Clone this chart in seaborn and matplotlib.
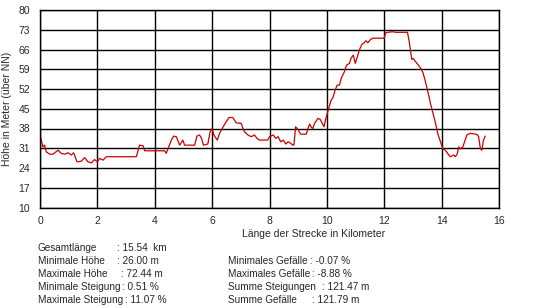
import matplotlib
matplotlib.use("Agg")
import matplotlib.pyplot as plt
import seaborn as sns
import pandas as pd

# ---- data ----
distance_km = [0.00, 0.10, 0.16, 0.22, 0.34, 0.45, 0.63, 0.74, 0.86, 0.98, 1.09, 1.17, 1.29, 1.44,
               1.56, 1.67, 1.79, 1.90, 2.00, 2.08, 2.20, 2.31, 2.43, 3.36, 3.47, 3.59, 3.65, 4.34,
               4.40, 4.58, 4.66, 4.75, 4.87, 4.98, 5.04, 5.39, 5.47, 5.56, 5.62, 5.70, 5.85, 5.93,
               6.00, 6.06, 6.18, 6.26, 6.35, 6.49, 6.59, 6.72, 6.84, 7.02, 7.07, 7.13, 7.25, 7.36,
               7.48, 7.56, 7.65, 7.94, 8.00, 8.13, 8.22, 8.30, 8.39, 8.48, 8.57, 8.65, 8.70, 8.82,
               8.85, 8.91, 9.00, 9.08, 9.28, 9.34, 9.40, 9.46, 9.51, 9.57, 9.69, 9.77, 9.84, 9.90,
               9.95, 10.03, 10.15, 10.21, 10.29, 10.36, 10.44, 10.50, 10.61, 10.69, 10.79, 10.84,
               10.92, 10.99, 11.07, 11.13, 11.22, 11.30, 11.36, 11.43, 11.51, 11.59, 11.99, 12.06,
               12.29, 12.40, 12.81, 12.86, 12.92, 12.96, 13.01, 13.09, 13.19, 13.27, 13.35, 13.42,
               13.50, 13.56, 13.61, 13.67, 13.73, 13.79, 13.85, 13.90, 13.98, 14.04, 14.13, 14.23,
               14.31, 14.42, 14.48, 14.54, 14.60, 14.66, 14.74, 14.80, 14.88, 15.00, 15.23, 15.29,
               15.35, 15.40, 15.46, 15.52]
elevation_m = [35.7, 31.5, 32.1, 29.7, 28.9, 28.9, 30.3, 29.2, 28.9, 29.4, 28.6, 29.4, 26.2, 26.4,
               27.7, 26.2, 25.8, 27.0, 26.2, 27.4, 26.8, 28.0, 28.0, 28.0, 32.1, 31.9, 30.1, 30.1,
               29.2, 33.9, 35.3, 35.1, 32.1, 33.9, 32.1, 32.1, 35.3, 35.7, 34.8, 32.1, 32.5, 36.8,
               38.0, 35.7, 33.9, 36.3, 38.0, 40.4, 41.9, 41.9, 40.0, 39.8, 38.0, 36.8, 35.7, 35.1,
               35.7, 34.5, 33.9, 33.9, 35.1, 35.7, 34.5, 35.1, 33.3, 33.9, 32.5, 33.3, 33.0, 32.1,
               32.1, 38.6, 37.6, 36.0, 36.0, 38.0, 39.6, 38.4, 38.0, 39.8, 41.6, 41.2, 39.8, 38.6,
               41.0, 43.9, 48.1, 48.9, 51.6, 53.4, 53.4, 55.8, 58.1, 60.5, 61.1, 62.9, 64.0, 61.1,
               63.7, 65.8, 67.8, 68.4, 69.1, 68.4, 69.4, 70.0, 70.0, 72.0, 72.3, 72.1, 72.1, 69.4,
               65.2, 62.5, 62.8, 61.7, 60.5, 59.3, 57.8, 55.2, 51.9, 49.3, 46.9, 44.5, 42.2, 39.8,
               36.8, 35.1, 32.7, 30.9, 30.3, 28.9, 28.0, 28.6, 28.0, 28.9, 31.5, 30.7, 31.5, 33.3,
               35.7, 36.3, 35.9, 35.1, 30.9, 30.3, 33.9, 35.3]

x_ticks = [0, 2, 4, 6, 8, 10, 12, 14, 16]
y_ticks = [10, 17, 24, 31, 38, 45, 52, 59, 66, 73, 80]
y_label = "Höhe in Meter (über NN)"
x_label = "Länge der Strecke in Kilometer"

stats_left_names = ["Gesamtlänge", "Minimale Höhe", "Maximale Höhe",
                    "Minimale Steigung", "Maximale Steigung"]
stats_left_values = [": 15.54  km", ": 26.00 m", ": 72.44 m", ": 0.51 %", ": 11.07 %"]
stats_right_names = ["Minimales Gefälle", "Maximales Gefälle", "Summe Steigungen",
                     "Summe Gefälle"]
stats_right_values = [": -0.07 %", ": -8.88 %", ": 121.47 m", ": 121.79 m"]

# ---- styling / layout ----
sns.set_style("white")
plt.rcParams["font.family"] = ["Liberation Sans", "DejaVu Sans"]
FS = 7.5
FS_STATS = 7.2
W, H = 549, 308

fig = plt.figure(figsize=(W / 100, H / 100), dpi=100)
ax = fig.add_axes([40 / W, 1 - 207.5 / H, (499 - 40) / W, (207.5 - 10) / H])

df = pd.DataFrame({"km": distance_km, "h": elevation_m})
sns.lineplot(data=df, x="km", y="h", ax=ax, color="#cc0000", linewidth=0.9,
             estimator=None, sort=False)

ax.set_xlim(0, 16)
ax.set_ylim(10, 80)
ax.set_xticks(x_ticks)
ax.set_yticks(y_ticks)
ax.set_xticklabels([str(t) for t in x_ticks], fontsize=FS)
ax.set_yticklabels([str(t) for t in y_ticks], fontsize=FS)
ax.tick_params(axis="y", length=0, pad=7)
ax.tick_params(axis="x", length=0, pad=6)
ax.grid(True, color="black", linewidth=1.0)
ax.set_axisbelow(True)
for s in ax.spines.values():
    s.set_color("black")
    s.set_linewidth(1.0)
ax.set_xlabel("")
ax.set_ylabel(y_label, fontsize=FS, labelpad=5)

fig.text(314 / W, 1 - 234 / H, x_label, fontsize=FS, ha="center", va="center")

# stats text
left_colon_x = [117, 117, 121, 120, 120]
right_colon_x = [309, 309, 322, 312]
row_y = [248, 261, 274, 287, 300]

fig.canvas.draw()
renderer = fig.canvas.get_renderer()


def put_row(x_name, colon_x, y, name, value):
    t = fig.text(x_name / W, 1 - y / H, name, fontsize=FS_STATS, ha="left", va="center")
    end_px = t.get_window_extent(renderer).x1
    cx = max(colon_x, end_px + 2)
    fig.text(cx / W, 1 - y / H, value, fontsize=FS_STATS, ha="left", va="center")


for i, (n, v) in enumerate(zip(stats_left_names, stats_left_values)):
    put_row(38, left_colon_x[i], row_y[i], n, v)
for i, (n, v) in enumerate(zip(stats_right_names, stats_right_values)):
    put_row(228, right_colon_x[i], row_y[i + 1], n, v)

fig.savefig("out.png", dpi=100, facecolor="white")
